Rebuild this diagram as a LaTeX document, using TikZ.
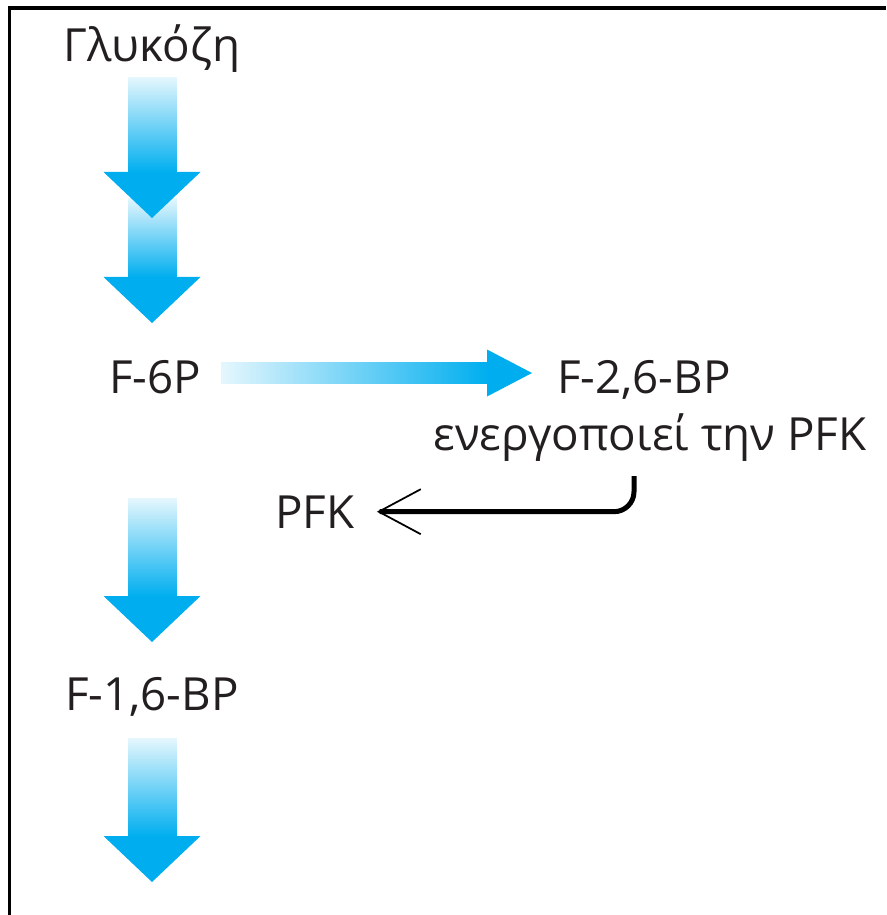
\documentclass[tikz,border=0pt]{standalone}
\usepackage{fontspec}
\setmainfont{Open Sans}
\usetikzlibrary{positioning,calc,arrows.meta,fadings}

\definecolor{flowcyan}{RGB}{0,174,239}
\definecolor{ink}{RGB}{35,31,32}

\tikzfading[name=shaftfade, top color=transparent!90, bottom color=transparent!0]
\tikzfading[name=railfade, left color=transparent!90, right color=transparent!0]

% block arrow pointing down, from shaft top (#1) to tip (#2)
\newcommand{\blockdown}[2]{%
  \fill[flowcyan] ($(#2)+(-48.5,-46)$) -- ($(#2)+(48.5,-46)$) -- (#2) -- cycle;
  \fill[flowcyan, path fading=shaftfade]
    ($(#1)+(-24.5,0)$) rectangle ($(#2)+(24.5,-46)$);
}

\begin{document}
\begin{tikzpicture}[
    x=0.02cm, y=-0.02cm,
    metab/.style = {inner sep=0pt, anchor=base, text=ink, font=\fontsize{26}{30}\selectfont},
    pfkarrow/.style = {draw=black, line width=0.1cm, rounded corners=0.4cm,
        -{Straight Barb[length=0.84cm, width=0.9cm, line width=1pt]}}
]
\useasboundingbox (0,0) rectangle (886,915);
\draw[line width=0.08cm] (9.5,915) |- (886,8);

\node[metab] (glc) at (152,62) {Γλυκόζη};
\node[metab] (f6p) at (155,393) {F-6P};
\node[metab] (f26bp) at (644,393) {F-2,6-BP};
\node[metab] (act) at (650,450) {ενεργοποιεί την PFK};
\node[metab] (pfk) at (315,528) {PFK};
\node[metab] (f16bp) at (152,710) {F-1,6-BP};

\coordinate (d1a) at (152,77);  \coordinate (d1b) at (152,218);
\coordinate (d2a) at (152,198); \coordinate (d2b) at (152,323);
\coordinate (d3a) at (152,498); \coordinate (d3b) at (152,642);
\coordinate (d4a) at (152,738); \coordinate (d4b) at (152,882);
\coordinate (h0) at (221,373);  \coordinate (h1) at (532,373);
\coordinate (actfoot) at (634,476);

\blockdown{d1a}{d1b}
\blockdown{d2a}{d2b}
\blockdown{d3a}{d3b}
\blockdown{d4a}{d4b}

\fill[flowcyan, path fading=railfade]
  ($(h0)+(0,-11)$) rectangle ($(h1)+(-45,11)$);
\fill[flowcyan] ($(h1)+(-45,-23.5)$) -- (h1) -- ($(h1)+(-45,23.5)$) -- cycle;

\draw[pfkarrow, shorten >=0.44cm] (actfoot) |- (pfk.east);

\end{tikzpicture}
\end{document}
